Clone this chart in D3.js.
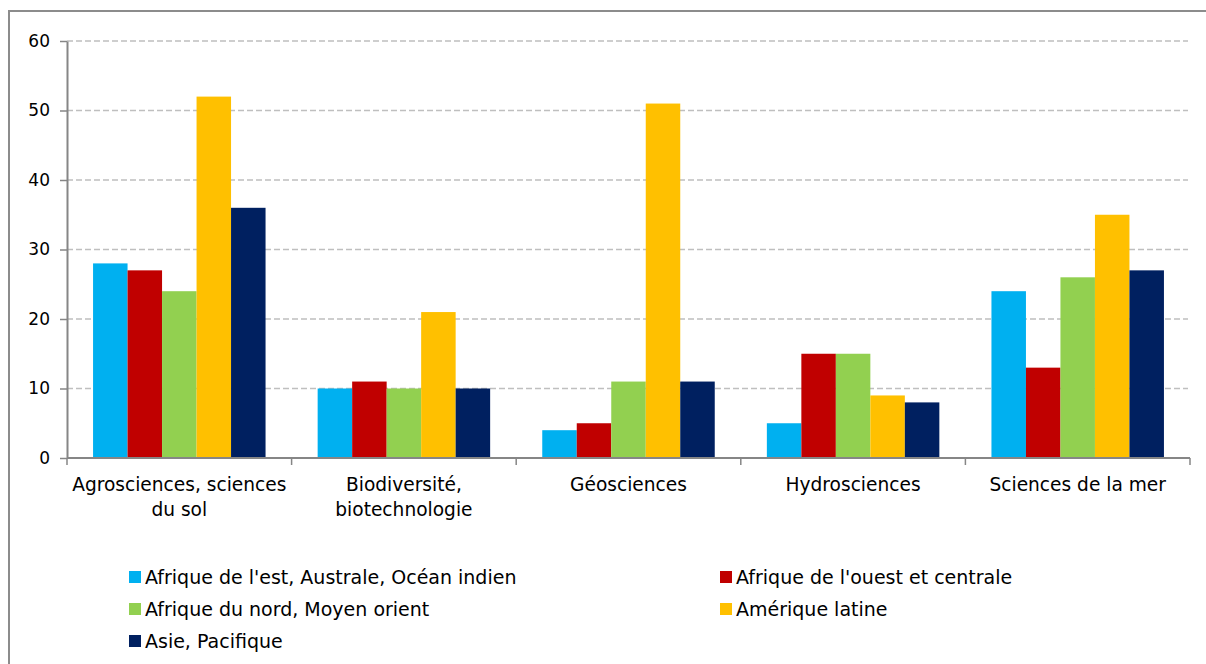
<!DOCTYPE html>
<html>
<head>
<meta charset="utf-8">
<script src="https://cdn.jsdelivr.net/npm/d3@7"></script>
<style>
  html, body { margin: 0; padding: 0; background: #fff; }
  svg { display: block; font-family: "DejaVu Sans", sans-serif; }
</style>
</head>
<body>
<svg id="chart" width="1206" height="664"></svg>
<script>
// Thematic categories (x axis), each label split over lines
const categories = [
  ["Agrosciences, sciences", "du sol"],
  ["Biodiversité,", "biotechnologie"],
  ["Géosciences"],
  ["Hydrosciences"],
  ["Sciences de la mer"]
];
const categoryKeys = ["agro", "bio", "geo", "hydro", "mer"];

// Regions (series)
const seriesNames = [
  "Afrique de l'est, Australe, Océan indien",
  "Afrique de l'ouest et centrale",
  "Afrique du nord, Moyen orient",
  "Amérique latine",
  "Asie, Pacifique"
];
const seriesColors = ["#00b0f0", "#c00000", "#92d050", "#ffc000", "#002060"];

// Values per region, in category order
const eastAfrica    = [28, 10, 4, 5, 24];
const westAfrica    = [27, 11, 5, 15, 13];
const northAfrica   = [24, 10, 11, 15, 26];
const latinAmerica  = [52, 21, 51, 9, 35];
const asiaPacific   = [36, 10, 11, 8, 27];
const seriesValues = [eastAfrica, westAfrica, northAfrica, latinAmerica, asiaPacific];

const yTicks = [0, 10, 20, 30, 40, 50, 60];

const svg = d3.select("#chart");

// Outer chart frame (runs past the right and bottom edges)
svg.append("rect")
  .attr("x", 9).attr("y", 11)
  .attr("width", 1300).attr("height", 700)
  .attr("fill", "none").attr("stroke", "#8c8c8c").attr("stroke-width", 2);

const plot = { left: 67, right: 1190, top: 41, bottom: 458 };

const x0 = d3.scaleBand()
  .domain(categoryKeys)
  .range([plot.left, plot.right])
  .paddingInner(0.232)
  .paddingOuter(0.116);

const x1 = d3.scaleBand()
  .domain(d3.range(seriesNames.length))
  .range([0, x0.bandwidth()]);

const y = d3.scaleLinear().domain([0, 60]).range([plot.bottom, plot.top]);

// Dashed horizontal gridlines
svg.append("g")
  .selectAll("line")
  .data(yTicks.filter(t => t > 0))
  .join("line")
  .attr("x1", plot.left).attr("x2", plot.right - 2)
  .attr("y1", d => y(d)).attr("y2", d => y(d))
  .attr("stroke", "#bfbfbf").attr("stroke-width", 1.3)
  .attr("stroke-dasharray", "6,3");

// Bars
const groups = svg.append("g")
  .selectAll("g")
  .data(categoryKeys)
  .join("g")
  .attr("transform", d => `translate(${x0(d)},0)`);

groups.selectAll("rect")
  .data((d, ci) => seriesValues.map((vals, si) => ({ si, v: vals[ci] })))
  .join("rect")
  .attr("x", d => x1(d.si))
  .attr("width", x1.bandwidth())
  .attr("y", d => y(d.v))
  .attr("height", d => y(0) - y(d.v))
  .attr("fill", d => seriesColors[d.si]);

// Y axis
const yAxis = d3.axisLeft(y).tickValues(yTicks).tickSize(7).tickPadding(10).tickSizeOuter(0);
const yg = svg.append("g").attr("transform", `translate(${plot.left},0)`).call(yAxis);
yg.select(".domain").attr("stroke", "#868686").attr("stroke-width", 2);
yg.selectAll(".tick line").attr("stroke", "#868686").attr("stroke-width", 1.5);
yg.selectAll(".tick text")
  .attr("font-family", "DejaVu Sans, sans-serif")
  .attr("font-size", 17).attr("fill", "#000");

// X axis: baseline with dividing ticks between categories
const xg = svg.append("g");
xg.append("line")
  .attr("x1", plot.left).attr("x2", plot.right)
  .attr("y1", plot.bottom).attr("y2", plot.bottom)
  .attr("stroke", "#868686").attr("stroke-width", 2);
const step = x0.step();
xg.selectAll("line.div")
  .data(d3.range(categoryKeys.length + 1))
  .join("line")
  .attr("class", "div")
  .attr("x1", i => plot.left + i * step)
  .attr("x2", i => plot.left + i * step)
  .attr("y1", plot.bottom).attr("y2", plot.bottom + 7)
  .attr("stroke", "#868686").attr("stroke-width", 1.5);

// Category labels
const labels = svg.append("g")
  .selectAll("text")
  .data(categoryKeys)
  .join("text")
  .attr("x", d => x0(d) + x0.bandwidth() / 2)
  .attr("y", 491)
  .attr("text-anchor", "middle")
  .attr("font-size", 18.6)
  .attr("fill", "#000");
labels.each(function(d, i) {
  d3.select(this).selectAll("tspan")
    .data(categories[i])
    .join("tspan")
    .attr("x", x0(d) + x0.bandwidth() / 2)
    .attr("dy", (t, j) => j === 0 ? 0 : 25)
    .text(t => t);
});

// Legend in two columns
const legendPos = [
  [129, 577], [720, 577],
  [129, 609], [720, 609],
  [129, 641]
];
const legend = svg.append("g")
  .selectAll("g")
  .data(seriesNames)
  .join("g")
  .attr("transform", (d, i) => `translate(${legendPos[i][0]},${legendPos[i][1]})`);
legend.append("rect")
  .attr("x", 0).attr("y", -6)
  .attr("width", 12).attr("height", 12)
  .attr("fill", (d, i) => seriesColors[i]);
legend.append("text")
  .attr("x", 16).attr("y", 7)
  .attr("font-size", 19)
  .attr("fill", "#000")
  .text(d => d);
</script>
</body>
</html>
